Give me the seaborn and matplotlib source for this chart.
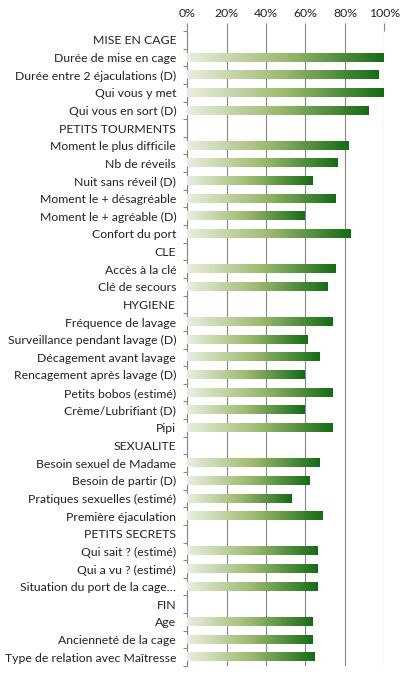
import numpy as np
import pandas as pd
import matplotlib
matplotlib.use('Agg')
import matplotlib.pyplot as plt
from matplotlib.colors import LinearSegmentedColormap
from matplotlib.ticker import PercentFormatter, FixedLocator
import seaborn as sns

labels = [
    'MISE EN CAGE',
    'Durée de mise en cage',
    'Durée entre 2 éjaculations (D)',
    'Qui vous y met',
    'Qui vous en sort (D)',
    'PETITS TOURMENTS',
    'Moment le plus difficile',
    'Nb de réveils',
    'Nuit sans réveil (D)',
    'Moment le + désagréable',
    'Moment le + agréable (D)',
    'Confort du port',
    'CLE',
    'Accès à la clé',
    'Clé de secours',
    'HYGIENE',
    'Fréquence de lavage',
    'Surveillance pendant lavage (D)',
    'Décagement avant lavage',
    'Rencagement après lavage (D)',
    'Petits bobos (estimé)',
    'Crème/Lubrifiant (D)',
    'Pipi',
    'SEXUALITE',
    'Besoin sexuel de Madame',
    'Besoin de partir (D)',
    'Pratiques sexuelles (estimé)',
    'Première éjaculation',
    'PETITS SECRETS',
    'Qui sait ? (estimé)',
    'Qui a vu ? (estimé)',
    'Situation du port de la cage…',
    'FIN',
    'Age',
    'Ancienneté de la cage',
    'Type de relation avec Maîtresse',
]
# section headers have no bar
values = [
    np.nan, 1.00, 0.973, 1.00, 0.922,
    np.nan, 0.821, 0.765, 0.638, 0.755, 0.597, 0.831,
    np.nan, 0.755, 0.714,
    np.nan, 0.740, 0.613, 0.674, 0.597, 0.740, 0.597, 0.740,
    np.nan, 0.674, 0.623, 0.531, 0.689,
    np.nan, 0.663, 0.663, 0.663,
    np.nan, 0.638, 0.638, 0.648,
]

df = pd.DataFrame({'label': labels, 'value': values})

sns.set_style('white')
plt.rcParams['font.family'] = ['Lato', 'DejaVu Sans']

fig = plt.figure(figsize=(4.04, 6.83), dpi=100)
ax = fig.add_axes([0.4636, 0.0249, 0.4876, 0.9297])

sns.barplot(data=df.dropna(), x='value', y='label', order=labels, orient='h',
            width=0.47, color='#4a8a3a', ax=ax, zorder=3)

cmap = LinearSegmentedColormap.from_list(
    'grn', [(0.0, '#e9efdf'), (0.5, '#9dba6f'), (1.0, '#166c16')])
grad = np.linspace(0, 1, 256).reshape(1, -1)
for p in list(ax.patches):
    x0, y0 = p.get_x(), p.get_y()
    w, h = p.get_width(), p.get_height()
    if not np.isfinite(w) or w <= 0:
        continue
    p.set_facecolor('none')
    p.set_edgecolor('none')
    ax.imshow(grad, extent=[x0, x0 + w, y0 + h, y0], aspect='auto',
              cmap=cmap, zorder=3, interpolation='bilinear')

n = len(labels)
ax.set_xlim(0, 1)
ax.set_ylim(n - 0.5, -0.5)

ax.xaxis.tick_top()
ax.xaxis.set_major_locator(FixedLocator([0, 0.2, 0.4, 0.6, 0.8, 1.0]))
ax.xaxis.set_major_formatter(PercentFormatter(1.0, decimals=0))
ax.grid(axis='x', color='#868686', linewidth=0.8, zorder=0)
ax.tick_params(axis='x', which='major', top=True, length=6, width=0.8,
               color='#868686', labelsize=8.8, labelcolor='#222222', pad=3)

ax.set_yticks(range(n))
ax.set_yticklabels(labels)
ax.yaxis.set_minor_locator(FixedLocator(np.arange(-0.5, n, 1)))
ax.tick_params(axis='y', which='major', left=False, length=0, labelsize=8.8,
               labelcolor='#222222', pad=8)
ax.tick_params(axis='y', which='minor', left=True, length=3, width=0.8,
               color='#868686')

for s in ['top', 'right', 'bottom']:
    ax.spines[s].set_visible(False)
ax.spines['left'].set_color('#868686')
ax.spines['left'].set_linewidth(0.8)

ax.set_xlabel('')
ax.set_ylabel('')

fig.savefig('out.png', dpi=100)
